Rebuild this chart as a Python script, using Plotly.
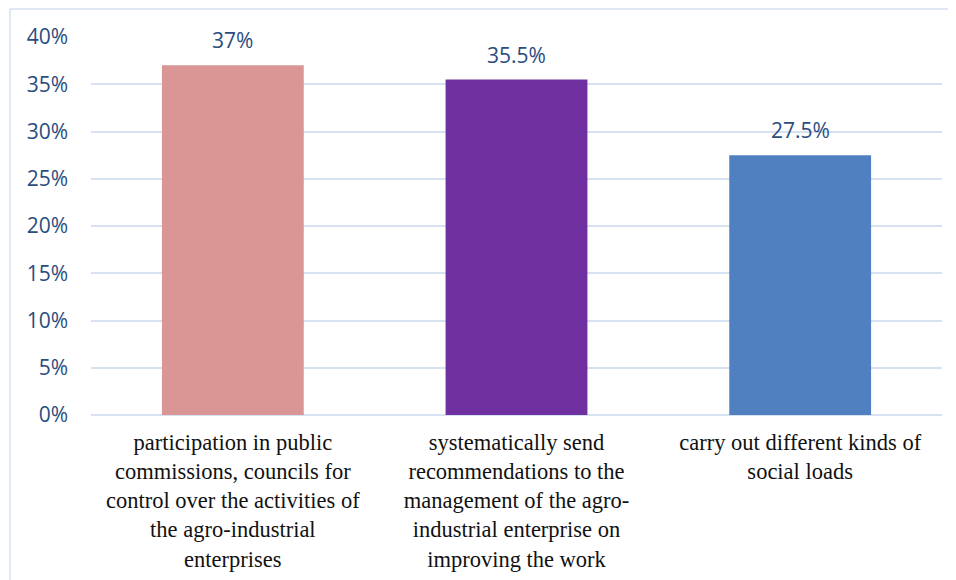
import plotly.graph_objects as go

categories = [
    "participation in public<br>commissions, councils for<br>control over the activities of<br>the agro-industrial<br>enterprises",
    "systematically send<br>recommendations to the<br>management of the agro-<br>industrial enterprise on<br>improving the work",
    "carry out different kinds of<br>social loads",
]
values = [37, 35.5, 27.5]
value_labels = ["37%", "35.5%", "27.5%"]
bar_colors = ["#D99694", "#7030A0", "#5080BF"]
tick_vals = [0, 5, 10, 15, 20, 25, 30, 35, 40]
tick_text = ["0%", "5%", "10%", "15%", "20%", "25%", "30%", "35%", "40%"]

fig = go.Figure()
fig.add_trace(go.Bar(
    x=categories, y=values,
    marker=dict(color=bar_colors, line=dict(width=0)),
    hoverinfo="skip",
))

for c, v, t in zip(categories, values, value_labels):
    fig.add_annotation(x=c, y=v, text=t, showarrow=False, yanchor="middle",
                       yshift=25, font=dict(family="Open Sans", size=21, color="#2B4D7E"))

# page body has an 8px margin; figure coordinates are offset by it
OFF = 8
W, H = 956 - OFF, 580 - OFF
L, T = 91 - OFF, 37 - OFF
pw, ph = 851, 378
R = W - L - pw
B = H - T - ph
x_left = (10 - OFF - L) / pw
y_top = 1 + (T - (9 - OFF)) / ph
fig.add_shape(type="line", xref="paper", yref="paper", x0=x_left, x1=1.1, y0=y_top, y1=y_top,
              line=dict(color="#D5E0F1", width=1.5))
fig.add_shape(type="line", xref="paper", yref="paper", x0=x_left, x1=x_left, y0=y_top, y1=-0.6,
              line=dict(color="#D5E0F1", width=1.5))

fig.update_layout(
    width=W, height=H,
    margin=dict(l=L, r=R, t=T, b=B, pad=0),
    paper_bgcolor="white", plot_bgcolor="white",
    bargap=0.5, showlegend=False,
    xaxis=dict(showgrid=False, zeroline=False, showline=False, ticks="",
               tickfont=dict(family="Liberation Serif", size=22.5, color="#111111"),
               ticklabelstandoff=11, fixedrange=True, automargin=False),
    yaxis=dict(range=[0, 40], tickvals=tick_vals, ticktext=tick_text,
               showgrid=True, gridcolor="#D6E1F2", gridwidth=1.5,
               zeroline=True, zerolinecolor="#D6E1F2", zerolinewidth=1.5,
               showline=False, ticks="",
               tickfont=dict(family="Open Sans", size=21, color="#2B4D7E"),
               ticklabelstandoff=22, fixedrange=True, automargin=False),
)

fig.write_html("out.html")
